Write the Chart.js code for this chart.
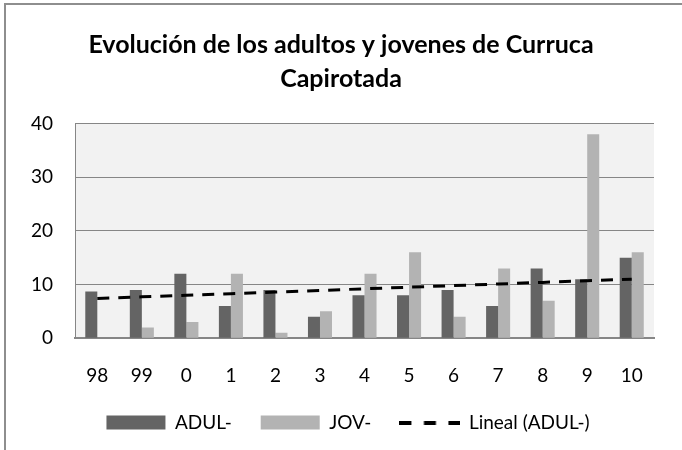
<!DOCTYPE html>
<html>
<head>
<meta charset="utf-8">
<script src="https://cdn.jsdelivr.net/npm/chart.js@4"></script>
<style>
  body { margin: 0; background: #fff; }
  #wrap { position: relative; width: 682px; height: 450px; overflow: hidden; }
  #frame { position: absolute; left: 4px; top: 3px; width: 720px; height: 520px; border: 2px solid #8e8e8e; box-sizing: border-box; }
  #myChart { position: absolute; left: 0; top: 0; }
</style>
</head>
<body>
<div id="wrap">
  <div id="frame"></div>
  <canvas id="myChart" width="682" height="450"></canvas>
</div>
<script>
// data
const years = ['98', '99', '0', '1', '2', '3', '4', '5', '6', '7', '8', '9', '10'];
const adul = [8.7, 9, 12, 6, 9, 4, 8, 8, 9, 6, 13, 11, 15];
const jov = [0, 2, 3, 12, 1, 5, 12, 16, 4, 13, 7, 38, 16];
// linear trend of ADUL- as drawn (read at each category)
const trendAdul = [7.4, 7.7, 8.0, 8.3, 8.6, 8.9, 9.2, 9.5, 9.8, 10.1, 10.4, 10.7, 11.0];
const yTicks = [0, 10, 20, 30, 40];

const FONT = 'Lato, "Open Sans", sans-serif';

// dashed swatch for the trend line legend entry
function dashSwatch() {
  const c = document.createElement('canvas');
  c.width = 61;
  c.height = 4;
  const g = c.getContext('2d');
  g.strokeStyle = '#000';
  g.lineWidth = 4;
  g.setLineDash([12, 12.5]);
  g.beginPath();
  g.moveTo(0, 2);
  g.lineTo(61, 2);
  g.stroke();
  return c;
}

// plot area background
const plotBg = {
  id: 'plotBg',
  beforeDraw: (chart) => {
    const { ctx, chartArea } = chart;
    ctx.save();
    ctx.fillStyle = '#f2f2f2';
    ctx.fillRect(chartArea.left, chartArea.top, chartArea.right - chartArea.left, chartArea.bottom - chartArea.top);
    ctx.restore();
  }
};

// nudge title and legend boxes to where the original has them
const nudge = {
  id: 'nudge',
  afterLayout: (chart) => {
    chart.titleBlock.left += 19;
    chart.legend.left += 33;
    chart.legend.top -= 21;
    chart.legend.bottom -= 21;
  }
};

const myChart = new Chart(document.getElementById('myChart'), {
  type: 'bar',
  data: {
    labels: years,
    datasets: [
      {
        label: 'ADUL-',
        data: adul,
        backgroundColor: '#646464',
        borderWidth: 0,
        pointStyle: 'rect',
        order: 1
      },
      {
        label: 'JOV-',
        data: jov,
        backgroundColor: '#b3b3b3',
        borderWidth: 0,
        pointStyle: 'rect',
        order: 1
      },
      {
        type: 'line',
        label: 'Lineal (ADUL-)',
        data: trendAdul,
        borderColor: '#000',
        backgroundColor: '#000',
        borderWidth: 3,
        borderDash: [12, 9],
        pointRadius: 0,
        pointStyle: dashSwatch(),
        fill: false,
        order: 0
      }
    ]
  },
  options: {
    responsive: false,
    animation: false,
    layout: { padding: { left: 9, right: 28, top: 0, bottom: -13 } },
    datasets: {
      bar: { categoryPercentage: 0.54, barPercentage: 1.0 }
    },
    scales: {
      x: {
        grid: { display: false },
        border: { display: true, color: '#868686', width: 2 },
        ticks: { color: '#000', font: { family: FONT, size: 19 }, padding: 18 }
      },
      y: {
        min: 0,
        max: 40,
        afterBuildTicks: (axis) => { axis.ticks = yTicks.map(v => ({ value: v })); },
        grid: { color: '#868686', lineWidth: 1, drawTicks: false },
        border: { display: true, color: '#868686', width: 1 },
        ticks: { color: '#000', font: { family: FONT, size: 19 }, padding: 22 }
      }
    },
    plugins: {
      title: {
        display: true,
        text: ['Evolución de los adultos y jovenes de Curruca', 'Capirotada'],
        color: '#000',
        font: { family: FONT, size: 25, weight: 'bold', lineHeight: 1.35 },
        padding: { top: 28, bottom: 28 }
      },
      legend: {
        position: 'bottom',
        labels: {
          usePointStyle: true,
          pointStyleWidth: 59,
          boxHeight: 14,
          padding: 29,
          color: '#000',
          font: { family: FONT, size: 19 },
          sort: (a, b) => a.datasetIndex - b.datasetIndex
        }
      },
      tooltip: { enabled: false }
    }
  },
  plugins: [plotBg, nudge]
});
</script>
</body>
</html>
